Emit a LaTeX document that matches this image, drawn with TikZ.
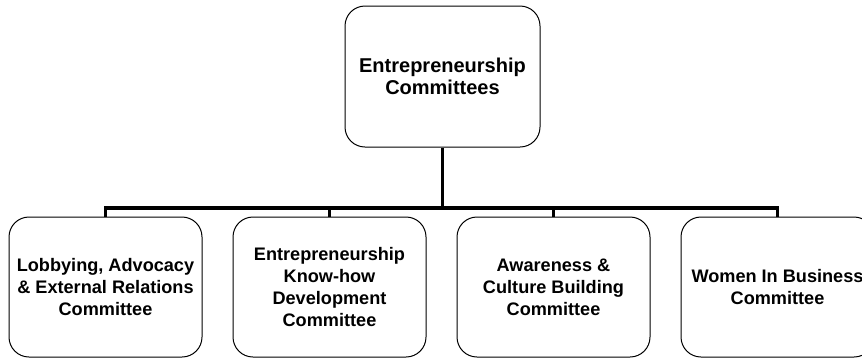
\documentclass[tikz,border=0pt]{standalone}
\usepackage{fontspec}
\setmainfont{Liberation Sans}
\begin{document}
\begin{tikzpicture}[x=0.75pt,y=-0.75pt,
  box/.style={draw=black,line width=0.75pt,rounded corners=15pt,align=center,inner sep=0pt,
    font=\bfseries\fontsize{13.6pt}{16.6pt}\selectfont},
  topbox/.style={box,minimum width=146.25pt,minimum height=105.75pt,
    font=\bfseries\fontsize{15pt}{16.6pt}\selectfont},
  childbox/.style={box,minimum width=144.75pt,minimum height=105pt},
  conn/.style={draw=black,line width=2.4pt,line join=miter}]
\useasboundingbox (0,0) rectangle (862,358);
\node[topbox] (top) at (442.5,76.5) {Entrepreneurship\\Committees};
\node[childbox] (c1) at (105.5,287) {Lobbying, Advocacy\\\& External Relations\\Committee};
\node[childbox] (c2) at (329.5,287) {Entrepreneurship\\Know-how\\Development\\Committee};
\node[childbox] (c3) at (553.5,287) {Awareness \&\\Culture Building\\Committee};
\node[childbox] (c4) at (777.5,287) {Women In Business\\Committee};
\coordinate (bus) at (442.5,208);
\draw[conn] (top.south) -- (bus);
\draw[conn] (c1.north) |- (bus);
\draw[conn] (c2.north) |- (bus);
\draw[conn] (c3.north) |- (bus);
\draw[conn] (c4.north) |- (bus);
\end{tikzpicture}
\end{document}
